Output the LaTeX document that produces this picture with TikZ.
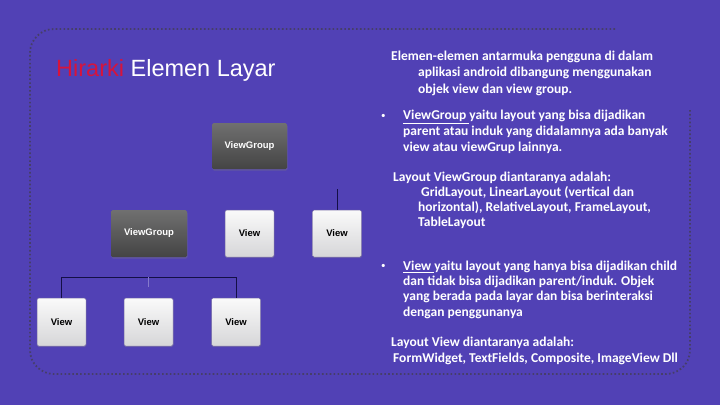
\documentclass[tikz,border=0pt]{standalone}
\usepackage{fontspec}
\setmainfont{Carlito}
\newfontfamily\arialfont{Liberation Sans}
\usetikzlibrary{calc,positioning,shadows}
\definecolor{slidebg}{RGB}{81,65,181}
\definecolor{hired}{RGB}{214,20,60}
\definecolor{framedot}{RGB}{70,62,105}
\definecolor{linkcol}{RGB}{20,15,70}
\definecolor{vgtop}{RGB}{112,112,112}
\definecolor{vgbot}{RGB}{68,68,68}
\definecolor{vtop}{RGB}{250,250,250}
\definecolor{vbot}{RGB}{214,214,216}
\definecolor{vborder}{RGB}{120,110,165}
\tikzset{>=latex}
\tikzset{vgbox/.style={rounded corners=1.5pt, top color=vgtop, bottom color=vgbot, draw=none,
    minimum width=75pt, minimum height=46pt, inner sep=0pt, outer sep=0pt,
    text=white, font=\arialfont\bfseries\fontsize{9.5}{9.5}\selectfont,
    drop shadow={opacity=0.35, shadow xshift=0.6pt, shadow yshift=-1.6pt}}}
\tikzset{vbox/.style={rounded corners=1.5pt, top color=vtop, bottom color=vbot, draw=vborder, line width=0.5pt,
    minimum width=49pt, minimum height=47pt, inner sep=0pt, outer sep=0pt,
    text=black, font=\arialfont\bfseries\fontsize{9.5}{9.5}\selectfont,
    drop shadow={opacity=0.25, shadow xshift=0.4pt, shadow yshift=-1.2pt}}}
\tikzset{link/.style={draw=linkcol, line width=0.9pt}}
\tikzset{txt/.style={anchor=west, inner sep=0pt, text=white, font=\bfseries\fontsize{13.5}{13.5}\selectfont}}
\tikzset{bul/.style={anchor=west, inner sep=0pt, text=white, font=\fontsize{9}{9}\selectfont}}
\tikzset{dotframe/.style={draw=framedot, line width=1.8pt, dash pattern=on 1.6pt off 2.3pt, rounded corners=24pt}}

\begin{document}
\begin{tikzpicture}[x=1pt,y=-1pt]
      \fill[slidebg] (0,0) rectangle (720,405);
      \useasboundingbox (0,0) rectangle (720,405);
      % frame
      \draw[dotframe] (615,29) -- (30,29) -- (30,374) -- (690,374) -- (690,108);
      % title
      \node[anchor=base west, inner sep=0pt, font=\arialfont\fontsize{23.5}{23.5}\selectfont] (ttl) at (56,76)
        {\textcolor{hired}{Hirarki} \textcolor{white}{Elemen Layar}};
      % hierarchy boxes
      \node[vgbox] (vg1) at (249.5,146) {ViewGroup};
      \node[vgbox, minimum width=76pt, minimum height=47pt] (vg2) at (149,233.5) {ViewGroup};
      \node[vbox] (v1) at (249.5,233.5) {View};
      \node[vbox] (v2) at (337,233.5) {View};
      \node[vbox, minimum height=48pt] (v3) at (61.5,322) {View};
      \node[vbox, minimum height=48pt] (v4) at (148.5,322) {View};
      \node[vbox, minimum height=48pt] (v5) at (236,322) {View};
      \coordinate (bar) at (0,277);
      \coordinate (stub) at (337,189);
      \coordinate (tickend) at (0,287);
      \draw[link] (v3.north) -- (v3.north |- bar) -- (v5.north |- bar) -- (v5.north);
      \draw[draw=slidebg!70!white, line width=0.5pt] (v4.north |- bar) -- (v4.north |- tickend);
      \draw[link] (stub) -- (v2.north);
      % description text
      \node[txt] (p1a) at (391,57) {Elemen-elemen antarmuka pengguna di dalam};
      \node[txt] (p1b) at (418,73) {aplikasi android dibangung menggunakan};
      \node[txt] (p1c) at (418,90) {objek view dan view group.};
      \node[bul] (b1) at (381,116) {•};
      \node[txt] (p2a) at (403,117) {\underline{ViewGroup }yaitu layout yang bisa dijadikan};
      \node[txt] (p2b) at (403,132) {parent atau induk yang didalamnya ada banyak};
      \node[txt] (p2c) at (403,148) {view atau viewGrup lainnya.};
      \node[txt] (p3a) at (393,178) {Layout ViewGroup diantaranya adalah:};
      \node[txt] (p3b) at (421,193) {GridLayout, LinearLayout (vertical dan};
      \node[txt] (p3c) at (418,208) {horizontal), RelativeLayout, FrameLayout,};
      \node[txt] (p3d) at (418,223) {TableLayout};
      \node[bul] (b2) at (381,266) {•};
      \node[txt] (p4a) at (403,267) {\underline{View }yaitu layout yang hanya bisa dijadikan child};
      \node[txt] (p4b) at (403,282) {dan tidak bisa dijadikan parent/induk. Objek};
      \node[txt] (p4c) at (403,297) {yang berada pada layar dan bisa berinteraksi};
      \node[txt] (p4d) at (403,313) {dengan penggunanya};
      \node[txt] (p5a) at (391,343) {Layout View diantaranya adalah:};
      \node[txt] (p5b) at (393,359) {FormWidget, TextFields, Composite, ImageView Dll};
    \end{tikzpicture}
\end{document}
